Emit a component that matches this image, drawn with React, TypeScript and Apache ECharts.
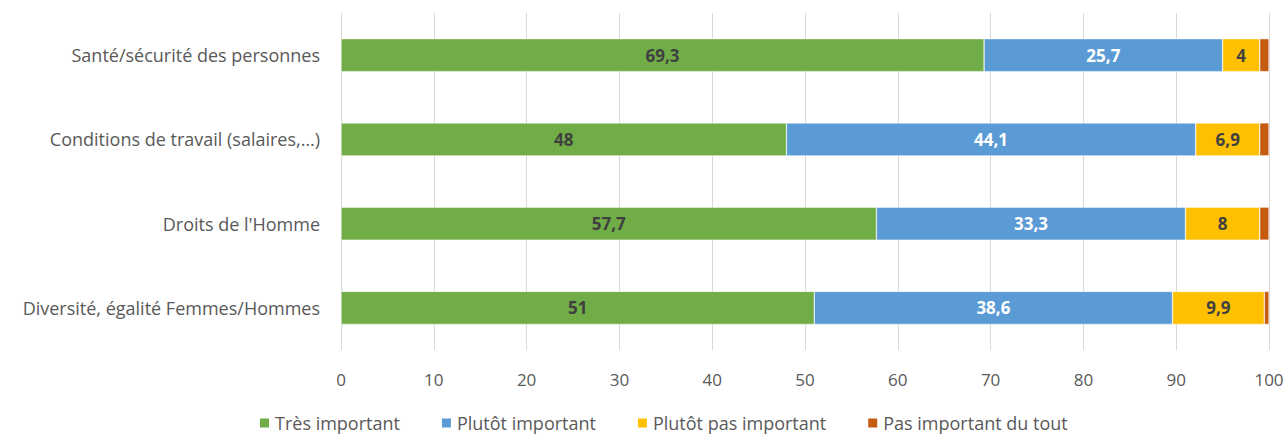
import React, { useEffect, useRef } from "react";
import * as echarts from "echarts";

const categories = [
  "Santé/sécurité des personnes",
  "Conditions de travail (salaires,…)",
  "Droits de l'Homme",
  "Diversité, égalité Femmes/Hommes",
];
const tresImportant = [69.3, 48, 57.7, 51];
const plutotImportant = [25.7, 44.1, 33.3, 38.6];
const plutotPasImportant = [4, 6.9, 8, 9.9];
const pasImportantDuTout = [1, 1, 1, 0.5];
const seriesNames = ["Très important", "Plutôt important", "Plutôt pas important", "Pas important du tout"];
const colors = ["#70AD47", "#5B9BD5", "#FFC000", "#C55A11"];

export default function App() {
  const ref = useRef<HTMLDivElement>(null);
  useEffect(() => {
    document.body.style.margin = "0";
    const chart = echarts.init(ref.current!, null, { renderer: "svg" });
    const font = "'Open Sans', 'Liberation Sans', sans-serif";
    const fmt = (p: any) => String(p.value).replace(".", ",");
    const data = [tresImportant, plutotImportant, plutotPasImportant, pasImportantDuTout];
    chart.setOption({
      animation: false,
      color: colors,
      textStyle: { fontFamily: font },
      grid: { left: 341, right: 19, top: 13, bottom: 85 },
      legend: {
        bottom: -2,
        left: 253,
        itemWidth: 11,
        itemHeight: 11,
        itemGap: 40,
        icon: "rect",
        textStyle: { fontSize: 18, color: "#595959", fontFamily: font },
        data: seriesNames,
      },
      xAxis: {
        type: "value",
        min: 0,
        max: 100,
        interval: 10,
        axisLine: { show: false },
        axisTick: { show: false },
        axisLabel: { fontSize: 17, color: "#595959", margin: 21, fontFamily: font },
        splitLine: { lineStyle: { color: "#D9D9D9", width: 1 } },
      },
      yAxis: {
        type: "category",
        inverse: true,
        data: categories,
        axisLine: { show: false },
        axisTick: { show: false },
        axisLabel: { fontSize: 18, color: "#595959", margin: 21, fontFamily: font },
      },
      series: seriesNames.map((name, i) => ({
        name,
        type: "bar",
        stack: "total",
        barWidth: 33,
        data: data[i],
        itemStyle: { color: colors[i], borderColor: "#FFFFFF", borderWidth: 0.5 },
        label: {
          show: i < 3,
          position: "inside",
          formatter: fmt,
          fontSize: 17,
          fontWeight: "bold",
          fontFamily: font,
          color: i === 1 ? "#FFFFFF" : "#404040",
        },
      })),
    });
    return () => chart.dispose();
  }, []);
  return <div ref={ref} style={{ width: 1288, height: 435 }} />;
}
